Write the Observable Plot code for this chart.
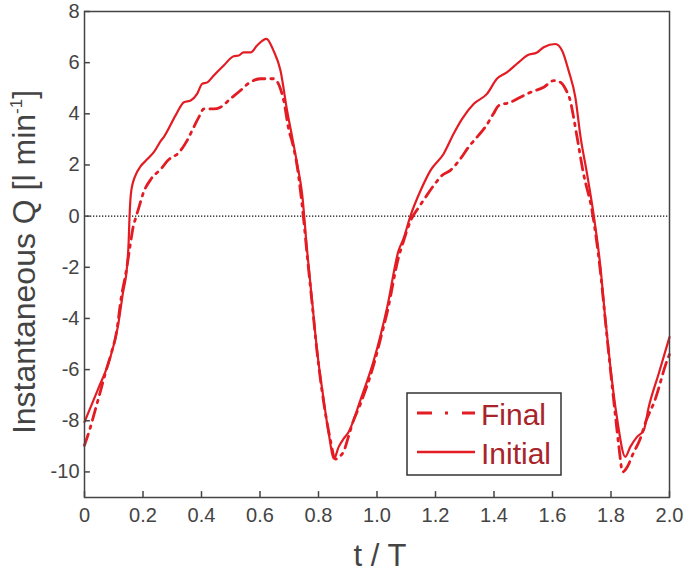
<!DOCTYPE html>
<html><head><meta charset="utf-8">
<script src="https://cdn.jsdelivr.net/npm/d3@7"></script>
<script src="https://cdn.jsdelivr.net/npm/@observablehq/plot@0.6"></script>
<style>html,body{margin:0;padding:0;background:#fff;} svg{display:block}</style>
</head><body><div id="chart"></div>
<script>
const seriesNames = ["Final", "Initial"];

const initialT = [0, 0.045, 0.085, 0.114, 0.131, 0.146, 0.151, 0.154, 0.16, 0.177, 0.19, 0.216, 0.237, 0.262, 0.271, 0.311, 0.34, 0.363, 0.385, 0.402, 0.42, 0.442, 0.476, 0.51, 0.527, 0.544, 0.568, 0.59, 0.622, 0.645, 0.67, 0.693, 0.71, 0.727, 0.744, 0.761, 0.778, 0.795, 0.818, 0.835, 0.853, 0.869, 0.886, 0.903, 0.943, 0.989, 1.035, 1.074, 1.09, 1.115, 1.149, 1.183, 1.228, 1.262, 1.291, 1.331, 1.376, 1.41, 1.445, 1.485, 1.513, 1.547, 1.57, 1.61, 1.633, 1.655, 1.678, 1.696, 1.718, 1.741, 1.764, 1.78, 1.798, 1.82, 1.849, 1.866, 1.889, 1.912, 1.929, 1.963, 2.0];
const initialQ = [-8.05, -6.8, -5.64, -4.33, -3.03, -1.9, -1.0, 0.0, 1.0, 1.66, 1.92, 2.24, 2.5, 2.96, 3.09, 3.93, 4.45, 4.52, 4.78, 5.17, 5.23, 5.5, 5.89, 6.25, 6.28, 6.4, 6.4, 6.67, 6.93, 6.5, 5.69, 4.1, 3.09, 2.05, 0.87, -1.34, -3.29, -5.24, -7.2, -8.5, -9.48, -9.02, -8.7, -8.44, -7.2, -5.64, -3.55, -1.34, -0.9, 0.03, 1.0, 1.79, 2.44, 3.22, 3.8, 4.39, 4.78, 5.37, 5.63, 6.02, 6.28, 6.4, 6.6, 6.73, 6.47, 5.69, 4.65, 3.09, 1.66, 0.03, -2.0, -3.95, -5.9, -7.85, -9.41, -9.02, -8.63, -8.37, -7.46, -6.16, -4.73];

const finalT = [0, 0.017, 0.046, 0.074, 0.091, 0.11, 0.125, 0.143, 0.158, 0.165, 0.177, 0.188, 0.2, 0.228, 0.262, 0.285, 0.324, 0.351, 0.368, 0.391, 0.408, 0.442, 0.465, 0.499, 0.533, 0.562, 0.602, 0.647, 0.667, 0.681, 0.699, 0.71, 0.727, 0.748, 0.761, 0.778, 0.795, 0.818, 0.838, 0.858, 0.872, 0.886, 0.903, 0.916, 0.943, 0.989, 1.012, 1.035, 1.074, 1.09, 1.115, 1.143, 1.166, 1.194, 1.222, 1.251, 1.285, 1.313, 1.342, 1.37, 1.398, 1.416, 1.456, 1.49, 1.525, 1.57, 1.604, 1.627, 1.644, 1.662, 1.672, 1.684, 1.706, 1.735, 1.764, 1.78, 1.798, 1.815, 1.827, 1.84, 1.856, 1.875, 1.9, 1.92, 1.95, 1.99, 2.0];
const finalQ = [-8.96, -8.37, -7.2, -6.03, -5.38, -4.5, -3.23, -2.12, -1.0, -0.5, 0.0, 0.42, 0.87, 1.46, 1.85, 2.18, 2.5, 2.96, 3.35, 3.87, 4.19, 4.19, 4.26, 4.59, 4.91, 5.2, 5.37, 5.37, 5.07, 4.52, 3.35, 2.9, 1.95, 0.0, -1.5, -3.4, -5.3, -7.3, -8.6, -9.5, -9.4, -9.2, -8.6, -8.11, -7.35, -5.8, -4.8, -3.75, -1.6, -1.0, -0.17, 0.35, 0.74, 1.2, 1.59, 1.79, 2.24, 2.7, 3.09, 3.48, 4.0, 4.32, 4.45, 4.65, 4.84, 5.04, 5.3, 5.23, 4.98, 4.45, 3.87, 3.09, 1.66, 0.22, -2.2, -4.0, -6.0, -7.8, -9.02, -10.0, -9.8, -9.3, -8.7, -8.0, -7.2, -5.7, -5.4];

const xTicks = [0, 0.2, 0.4, 0.6, 0.8, 1.0, 1.2, 1.4, 1.6, 1.8, 2.0];
const xTickLabels = ["0", "0.2", "0.4", "0.6", "0.8", "1.0", "1.2", "1.4", "1.6", "1.8", "2.0"];
const yTicks = [-10, -8, -6, -4, -2, 0, 2, 4, 6, 8];
const yTickLabels = ["-10", "-8", "-6", "-4", "-2", "0", "2", "4", "6", "8"];
const xLabel = "t / T";
const yLabelMain = "Instantaneous Q [l min";
const yLabelSup = "-1";
const yLabelEnd = "]";

const initialRows = initialT.map((t, i) => ({series: "Initial", t, q: initialQ[i]}));
const finalRows = finalT.map((t, i) => ({series: "Final", t, q: finalQ[i]}));

const lineColor = "#e31c24";
const dashPattern = "12,6,2.5,6";
const font = "'Liberation Sans', Arial, Helvetica, sans-serif";

const chart = Plot.plot({
  width: 685, height: 574,
  marginLeft: 84, marginRight: 16, marginTop: 11, marginBottom: 77,
  style: {fontFamily: font, fontSize: "20px", color: "#444", background: "#fff"},
  x: {domain: [0, 2]},
  y: {domain: [-11, 8]},
  marks: [
    Plot.ruleY([0], {stroke: "#111", strokeWidth: 1.3, strokeDasharray: "1.3,1.7"}),
    Plot.line(finalRows, {x: "t", y: "q", stroke: lineColor, strokeWidth: 2.8, strokeDasharray: dashPattern, curve: "monotone-x"}),
    Plot.line(initialRows, {x: "t", y: "q", stroke: lineColor, strokeWidth: 2.2, curve: "monotone-x"}),
    Plot.ruleX(xTicks, {y1: -11, y2: -10.77, stroke: "#444", strokeWidth: 1.5}),
    Plot.ruleY(yTicks, {x1: 0, x2: 0.02, stroke: "#444", strokeWidth: 1.5}),
    Plot.axisX(xTicks, {tickSize: 0, tickPadding: 10, tickFormat: d => xTickLabels[xTicks.indexOf(d)], label: null}),
    Plot.axisY(yTicks, {tickSize: 0, tickPadding: 5, tickFormat: d => yTickLabels[yTicks.indexOf(d)], label: null}),
    Plot.frame({stroke: "#444", strokeWidth: 1.5})
  ]
});
document.getElementById("chart").appendChild(chart);

const svg = d3.select(chart);
// axis titles
svg.append("text")
  .attr("x", 380).attr("y", 566)
  .attr("text-anchor", "middle")
  .attr("fill", "#444")
  .style("font-family", font).style("font-size", "31px")
  .text(xLabel);

const yl = svg.append("text")
  .attr("transform", "translate(35,262) rotate(-90)")
  .attr("text-anchor", "middle")
  .attr("fill", "#444")
  .style("font-family", font).style("font-size", "32px");
yl.append("tspan").text(yLabelMain);
yl.append("tspan").attr("dy", -13).style("font-size", "17px").text(yLabelSup);
yl.append("tspan").attr("dy", 13).text(yLabelEnd);

// legend
const lg = svg.append("g");
lg.append("rect").attr("x", 407).attr("y", 393).attr("width", 154).attr("height", 82)
  .attr("fill", "#fff").attr("stroke", "#333").attr("stroke-width", 1.5);
seriesNames.forEach((name, i) => {
  const y = 413 + i * 39;
  lg.append("line").attr("x1", 417).attr("x2", 475).attr("y1", y).attr("y2", y)
    .attr("stroke", lineColor).attr("stroke-width", name === "Final" ? 2.8 : 2.4)
    .attr("stroke-dasharray", name === "Final" ? "15,13,3,14" : null);
  lg.append("text").attr("x", 481).attr("y", y + 12)
    .attr("text-anchor", "start")
    .attr("fill", "#a8242a")
    .style("font-family", font).style("font-size", "30px")
    .text(name);
});
</script>
</body></html>
